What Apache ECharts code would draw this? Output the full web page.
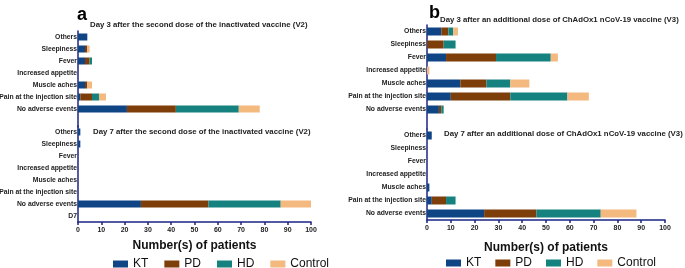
<!DOCTYPE html>
<html>
<head>
<meta charset="utf-8">
<script src="https://cdn.jsdelivr.net/npm/echarts@6/dist/echarts.min.js"></script>
<style>
  html, body { margin: 0; padding: 0; background: #fff; }
  #chart { width: 685px; height: 268px; }
</style>
</head>
<body>
<div id="chart"></div>
<script>
// 类目
const categories = ['Others', 'Sleepiness', 'Fever', 'Increased appetite', 'Muscle aches', 'Pain at the injection site', 'No adverse events']
const groups = ['KT', 'PD', 'HD', 'Control']
const colors = ['#0f4584', '#7d3e0a', '#168280', '#f3b97f']
const xTicks = [0, 10, 20, 30, 40, 50, 60, 70, 80, 90, 100]

// a - Day 3 (V2)
const aDay3KT = [4, 3, 3, 0, 3, 1, 21]
const aDay3PD = [0, 1, 2, 0, 1, 5, 21]
const aDay3HD = [0, 0, 1, 0, 0, 3, 27]
const aDay3Control = [0, 1, 0, 0, 2, 3, 9]
// a - Day 7 (V2), last row "D7"
const aDay7KT = [1, 1, 0, 0, 0, 0, 27, 0]
const aDay7PD = [0, 0, 0, 0, 0, 0, 29, 0]
const aDay7HD = [0, 0, 0, 0, 0, 0, 31, 0]
const aDay7Control = [0, 0, 0, 0, 0, 0, 13, 0]
// b - Day 3 (V3)
const bDay3KT = [6, 0, 8, 0, 14, 10, 5]
const bDay3PD = [3, 7, 21, 0, 11, 25, 1]
const bDay3HD = [2, 5, 23, 0, 10, 24, 1]
const bDay3Control = [2, 0, 3, 1, 8, 9, 0]
// b - Day 7 (V3)
const bDay7KT = [2, 0, 0, 0, 1, 2, 24]
const bDay7PD = [0, 0, 0, 0, 0, 6, 22]
const bDay7HD = [0, 0, 0, 0, 0, 4, 27]
const bDay7Control = [0, 0, 0, 0, 0, 0, 15]

const navy = '#1b2586'
const font = 'Liberation Sans'

const chart = echarts.init(document.getElementById('chart'))

const grids = [
  { left: 78, width: 233, top: 31, height: 96, outerBoundsMode: 'none' },   // a top
  { left: 78, width: 233, top: 126, height: 96, outerBoundsMode: 'none' },  // a bottom
  { left: 427, width: 238, top: 25, height: 104, outerBoundsMode: 'none' }, // b top
  { left: 427, width: 238, top: 129, height: 91, outerBoundsMode: 'none' }  // b bottom
]

const yCats = [
  categories.concat(['']),
  categories.concat(['D7']),
  categories.concat(['']),
  categories
]

function xAxisFor(i) {
  const bottom = i === 1 || i === 3
  return {
    gridIndex: i,
    type: 'value',
    min: xTicks[0],
    max: xTicks[xTicks.length - 1],
    interval: 10,
    show: bottom,
    name: 'Number(s) of patients',
    nameLocation: 'middle',
    nameGap: i === 1 ? 18 : 22,
    nameTextStyle: { fontFamily: font, fontWeight: 'bold', fontSize: 12, color: '#111' },
    axisLine: { show: true, lineStyle: { color: navy, width: 1.5 } },
    axisTick: { show: true, length: 3, lineStyle: { color: navy, width: 1.5 } },
    axisLabel: { fontFamily: font, fontWeight: 'bold', fontSize: 7, color: '#222', margin: 5 },
    splitLine: { show: false }
  }
}

function yAxisFor(i) {
  return {
    gridIndex: i,
    type: 'category',
    inverse: true,
    data: yCats[i],
    axisLine: { show: true, lineStyle: { color: navy, width: 1.5 } },
    axisTick: { show: false },
    axisLabel: { fontFamily: font, fontWeight: 'bold', fontSize: 6.8, color: '#222', margin: 1, interval: 0 }
  }
}

const dataSets = [
  [aDay3KT, aDay3PD, aDay3HD, aDay3Control],
  [aDay7KT, aDay7PD, aDay7HD, aDay7Control],
  [bDay3KT, bDay3PD, bDay3HD, bDay3Control],
  [bDay7KT, bDay7PD, bDay7HD, bDay7Control]
]

const series = []
dataSets.forEach((set, gi) => {
  set.forEach((vals, si) => {
    series.push({
      name: groups[si],
      type: 'bar',
      stack: 'g' + gi,
      xAxisIndex: gi,
      yAxisIndex: gi,
      barWidth: gi < 2 ? 7 : 8,
      itemStyle: { color: colors[si] },
      data: vals
    })
  })
})

const titleStyle = { fontFamily: font, fontWeight: 'bold', fontSize: 7.8, color: '#222' }

const option = {
  animation: false,
  textStyle: { fontFamily: font },
  title: [
    { text: 'a', left: 72, top: 1, textStyle: { fontFamily: font, fontWeight: 'bold', fontSize: 18, color: '#000' } },
    { text: 'b', left: 424, top: -1, textStyle: { fontFamily: font, fontWeight: 'bold', fontSize: 18, color: '#000' } },
    { text: 'Day 3 after the second dose of the inactivated vaccine (V2)', left: 90, top: 21, textStyle: titleStyle, padding: 0 },
    { text: 'Day 7 after the second dose of the inactivated vaccine (V2)', left: 93, top: 128, textStyle: titleStyle, padding: 0 },
    { text: 'Day 3 after an additional dose of ChAdOx1 nCoV-19 vaccine (V3)', left: 440, top: 16, textStyle: titleStyle, padding: 0 },
    { text: 'Day 7 after an additional dose of ChAdOx1 nCoV-19 vaccine (V3)', left: 444, top: 130, textStyle: titleStyle, padding: 0 }
  ],
  legend: [
    {
      data: groups, left: 113, top: 258, itemWidth: 15, itemHeight: 7, itemGap: 16, padding: 0,
      icon: 'rect', textStyle: { fontFamily: font, fontSize: 12, color: '#111' }
    },
    {
      data: groups, left: 446, top: 257, itemWidth: 15, itemHeight: 7, itemGap: 14, padding: 0,
      icon: 'rect', textStyle: { fontFamily: font, fontSize: 12, color: '#111' }
    }
  ],
  grid: grids,
  xAxis: [0, 1, 2, 3].map(xAxisFor),
  yAxis: [0, 1, 2, 3].map(yAxisFor),
  series: series
}

chart.setOption(option)
</script>
</body>
</html>
